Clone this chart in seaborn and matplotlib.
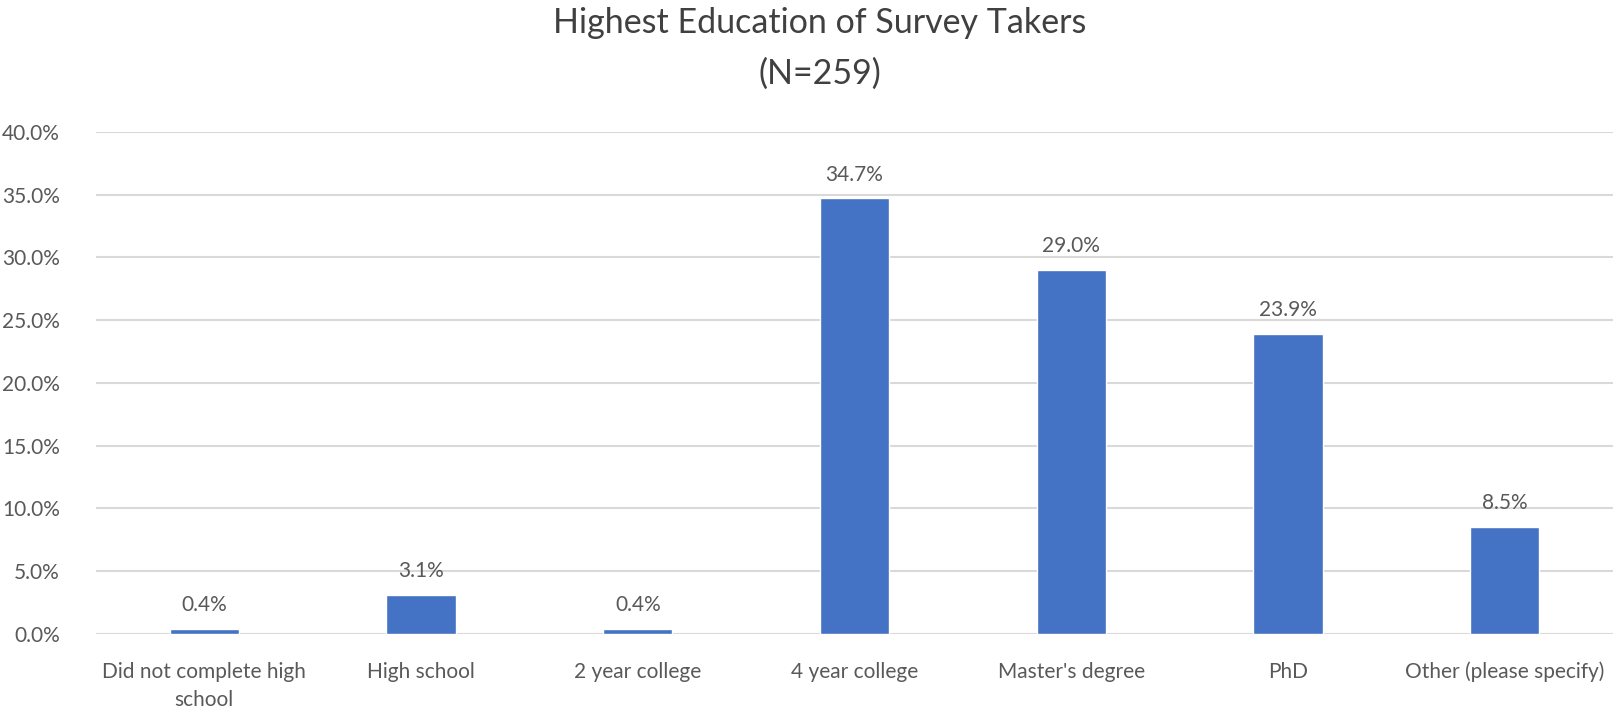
import matplotlib
matplotlib.use("Agg")
import matplotlib.pyplot as plt
import seaborn as sns
import pandas as pd
from matplotlib.ticker import PercentFormatter

# data
categories = ["Did not complete high\nschool", "High school", "2 year college",
              "4 year college", "Master's degree", "PhD", "Other (please specify)"]
shares = [0.4, 3.1, 0.4, 34.7, 29.0, 23.9, 8.5]
y_ticks = [0, 5, 10, 15, 20, 25, 30, 35, 40]

df = pd.DataFrame({"education": categories, "share": shares})

sns.set_theme(style="white")
plt.rcParams['font.family'] = ['Lato', 'DejaVu Sans']
grey = "#595959"

fig = plt.figure(figsize=(16.13, 7.13), dpi=100)
ax = fig.add_axes([0.0595, 0.111, 0.9405, 0.704])

sns.barplot(data=df, x="education", y="share", color="#4472C4", width=0.32,
            saturation=1, ax=ax, zorder=3)

ax.set_ylim(0, 40)
ax.set_yticks(y_ticks)
ax.yaxis.set_major_formatter(PercentFormatter(decimals=1))
ax.grid(axis="y", color="#D9D9D9", linewidth=1.5, zorder=0)
ax.set_axisbelow(True)
for s in ax.spines.values():
    s.set_visible(False)
ax.set_xlabel("")
ax.set_ylabel("")
ax.tick_params(axis="both", length=0, labelsize=15, labelcolor=grey)
ax.tick_params(axis="y", pad=26)
ax.tick_params(axis="x", pad=20)
for lbl in ax.get_xticklabels():
    lbl.set_linespacing(1.5)

for c in ax.containers:
    ax.bar_label(c, labels=[f"{v:.1f}%" for v in shares], padding=10,
                 fontsize=15, color=grey)

fig.suptitle("Highest Education of Survey Takers\n(N=259)", x=0.508, y=0.99,
             fontsize=24.5, color="#404040", fontweight="normal", linespacing=1.7)

fig.savefig("out.png", dpi=100)
